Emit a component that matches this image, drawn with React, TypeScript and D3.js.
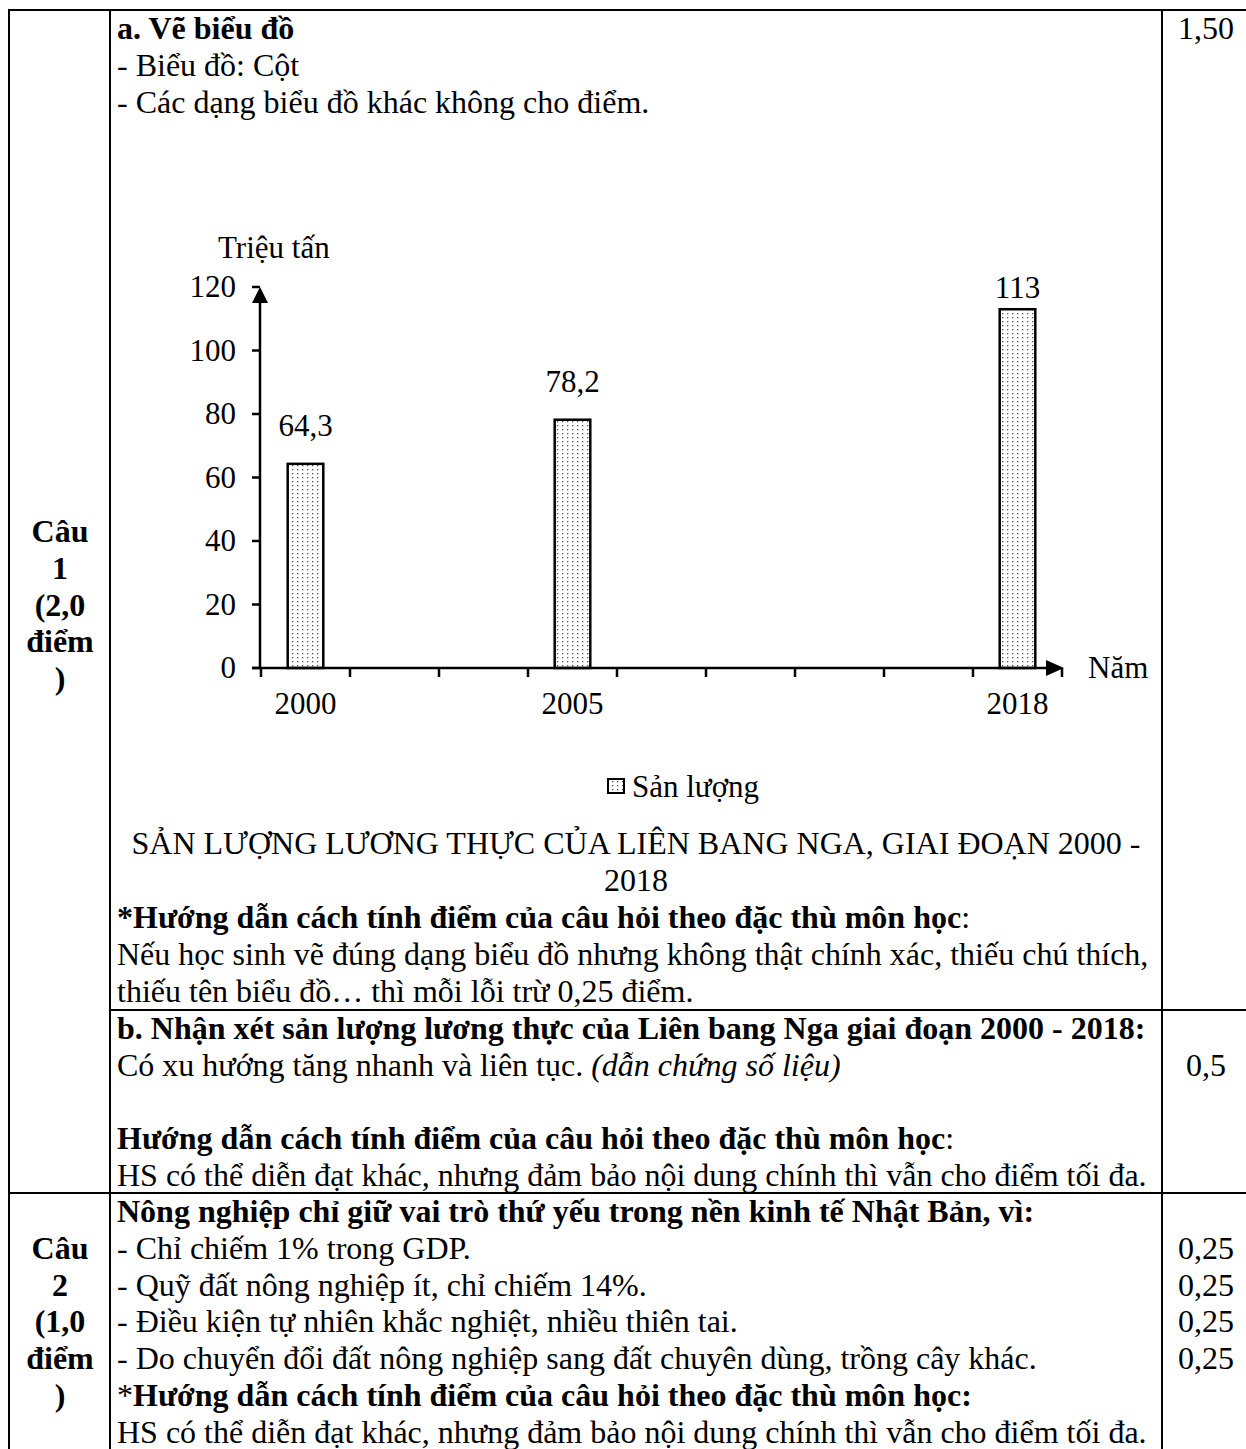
import React from "react";
import * as d3 from "d3";

// ---- Chart data ----
const slots = ["2000", "", "", "2005", "", "", "", "", "2018"]; // x-axis slots (blank = empty category)
const years = ["2000", "2005", "2018"];
const values = [64.3, 78.2, 113];
const yTicks = [0, 20, 40, 60, 80, 100, 120];
const yUnit = "Triệu tấn";
const xUnit = "Năm";
const legendLabel = "Sản lượng";
const chartTitle1 = "SẢN LƯỢNG LƯƠNG THỰC CỦA LIÊN BANG NGA, GIAI ĐOẠN 2000 -";
const chartTitle2 = "2018";

// ---- Layout constants ----
const W = 1246;
const H = 1449;
const FONT = "'Liberation Serif', 'Times New Roman', serif";
const FS = 32;
const CFS = 31;
const L = 36.8;
const TX = 117;
const C1 = 9, C2 = 110, C3 = 1162;
const ROW_TOP = 10, ROW_B = 1010, ROW_2 = 1193;
const SCORE_X = 1206;

const fmt = (v: number) => String(v).replace(".", ",");

function Chart() {
  const x = d3.scaleBand<number>().domain(d3.range(slots.length)).range([261, 1062]).padding(0);
  const y = d3.scaleLinear().domain([0, 120]).range([668, 287]);
  const bw = x.bandwidth() * 0.4;
  const y0 = y(0);
  const boundaries = d3.range(slots.length + 1).map((i) => 261 + i * x.step());
  const axisX = 260;
  return (
    <g fontFamily={FONT} fontSize={CFS} fill="#000">
      <defs>
        <pattern id="dots" width="5" height="4" patternUnits="userSpaceOnUse">
          <rect width="5" height="4" fill="#fff" />
          <rect x="2" y="1" width="1.3" height="1.3" fill="#555" />
        </pattern>
      </defs>
      <text x={218} y={258}>{yUnit}</text>
      {/* y ticks */}
      {yTicks.map((t) => (
        <g key={t}>
          <line x1={axisX - 8} x2={axisX} y1={y(t)} y2={y(t)} stroke="#000" strokeWidth={2.5} />
          <text x={236} y={y(t) + 10} textAnchor="end">{t}</text>
        </g>
      ))}
      {/* bars */}
      {years.map((yr, i) => {
        const idx = slots.indexOf(yr);
        const bx = (x(idx) as number) + (x.bandwidth() - bw) / 2;
        const ly = Math.max(y(values[i]) - 28, 298);
        return (
          <g key={yr}>
            <rect x={bx} y={y(values[i])} width={bw} height={y0 - y(values[i])} fill="url(#dots)" stroke="#000" strokeWidth={2.5} />
            <text x={bx + bw / 2} y={ly} textAnchor="middle">{fmt(values[i])}</text>
          </g>
        );
      })}
      {/* y axis */}
      <line x1={axisX} x2={axisX} y1={y0} y2={y(120) + 14} stroke="#000" strokeWidth={2.5} />
      <path d={`M${axisX},${y(120)} L${axisX - 8},${y(120) + 16} L${axisX + 8},${y(120) + 16} Z`} fill="#000" />
      {/* x axis */}
      <line x1={252} x2={1048} y1={y0} y2={y0} stroke="#000" strokeWidth={2.5} />
      <path d={`M1064,${y0} L1046,${y0 - 8} L1046,${y0 + 8} Z`} fill="#000" />
      {boundaries.map((bx, i) => (
        <line key={i} x1={bx} x2={bx} y1={y0} y2={y0 + 9} stroke="#000" strokeWidth={2.5} />
      ))}
      {slots.map((s, i) =>
        s ? (
          <text key={i} x={(x(i) as number) + x.bandwidth() / 2} y={714} textAnchor="middle">{s}</text>
        ) : null
      )}
      <text x={1088} y={678}>{xUnit}</text>
      {/* legend */}
      <rect x={608} y={779} width={16} height={14} fill="url(#dots)" stroke="#000" strokeWidth={2} />
      <text x={632} y={797}>{legendLabel}</text>
    </g>
  );
}

export default function App() {
  const line = (x1: number, y1: number, x2: number, y2: number, k: string) => (
    <line key={k} x1={x1} y1={y1} x2={x2} y2={y2} stroke="#000" strokeWidth={2} />
  );
  const b1 = ROW_TOP + 29;
  const bb = ROW_B + 29;
  const b2 = ROW_2 + 29;
  const tEnd = ROW_B - 8.5;
  return (
    <svg width={W} height={H} style={{ position: "absolute", left: 0, top: 0, background: "#fff" }}>
      <rect width={W} height={H} fill="#fff" />
      {line(C1 - 1, ROW_TOP, W, ROW_TOP, "t")}
      {line(C1, ROW_TOP, C1, H, "l1")}
      {line(C2, ROW_TOP, C2, H, "l2")}
      {line(C3, ROW_TOP, C3, H, "l3")}
      {line(C2, ROW_B, W, ROW_B, "hb")}
      {line(C1, ROW_2, W, ROW_2, "h2")}
      <g fontFamily={FONT} fontSize={FS} fill="#000">
        {/* Câu 1 */}
        <text x={TX} y={b1} fontWeight="bold">a. Vẽ biểu đồ</text>
        <text x={TX} y={b1 + L}>- Biểu đồ: Cột</text>
        <text x={TX} y={b1 + 2 * L}>- Các dạng biểu đồ khác không cho điểm.</text>
        <text x={SCORE_X} y={b1} textAnchor="middle">1,50</text>
        {["Câu", "1", "(2,0", "điểm", ")"].map((s, i) => (
          <text key={i} x={60} y={542 + i * L} textAnchor="middle" fontWeight="bold">{s}</text>
        ))}
        <text x={636} y={tEnd - 4 * L} textAnchor="middle">{chartTitle1}</text>
        <text x={636} y={tEnd - 3 * L} textAnchor="middle">{chartTitle2}</text>
        <text x={TX} y={tEnd - 2 * L}>
          <tspan fontWeight="bold">*Hướng dẫn cách tính điểm của câu hỏi theo đặc thù môn học</tspan>:
        </text>
        <text x={TX} y={tEnd - L}>Nếu học sinh vẽ đúng dạng biểu đồ nhưng không thật chính xác, thiếu chú thích,</text>
        <text x={TX} y={tEnd}>thiếu tên biểu đồ… thì mỗi lỗi trừ 0,25 điểm.</text>
        {/* part b */}
        <text x={TX} y={bb} fontWeight="bold">b. Nhận xét sản lượng lương thực của Liên bang Nga giai đoạn 2000 - 2018:</text>
        <text x={TX} y={bb + L}>
          Có xu hướng tăng nhanh và liên tục. <tspan fontStyle="italic">(dẫn chứng số liệu)</tspan>
        </text>
        <text x={SCORE_X} y={bb + L} textAnchor="middle">0,5</text>
        <text x={TX} y={bb + 3 * L}>
          <tspan fontWeight="bold">Hướng dẫn cách tính điểm của câu hỏi theo đặc thù môn học</tspan>:
        </text>
        <text x={TX} y={bb + 4 * L}>HS có thể diễn đạt khác, nhưng đảm bảo nội dung chính thì vẫn cho điểm tối đa.</text>
        {/* Câu 2 */}
        <text x={TX} y={b2} fontWeight="bold">Nông nghiệp chỉ giữ vai trò thứ yếu trong nền kinh tế Nhật Bản, vì:</text>
        <text x={TX} y={b2 + L}>- Chỉ chiếm 1% trong GDP.</text>
        <text x={TX} y={b2 + 2 * L}>- Quỹ đất nông nghiệp ít, chỉ chiếm 14%.</text>
        <text x={TX} y={b2 + 3 * L}>- Điều kiện tự nhiên khắc nghiệt, nhiều thiên tai.</text>
        <text x={TX} y={b2 + 4 * L}>- Do chuyển đổi đất nông nghiệp sang đất chuyên dùng, trồng cây khác.</text>
        <text x={TX} y={b2 + 5 * L}>
          *<tspan fontWeight="bold">Hướng dẫn cách tính điểm của câu hỏi theo đặc thù môn học:</tspan>
        </text>
        <text x={TX} y={b2 + 6 * L}>HS có thể diễn đạt khác, nhưng đảm bảo nội dung chính thì vẫn cho điểm tối đa.</text>
        {[1, 2, 3, 4].map((k) => (
          <text key={k} x={SCORE_X} y={b2 + k * L} textAnchor="middle">0,25</text>
        ))}
        {["Câu", "2", "(1,0", "điểm", ")"].map((s, i) => (
          <text key={i} x={60} y={b2 + (i + 1) * L} textAnchor="middle" fontWeight="bold">{s}</text>
        ))}
      </g>
      <Chart />
    </svg>
  );
}
